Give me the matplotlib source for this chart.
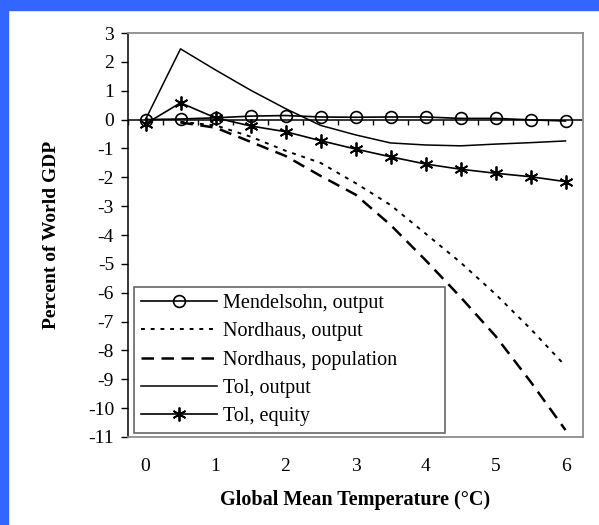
import numpy as np
import matplotlib
matplotlib.use("Agg")
import matplotlib.pyplot as plt
from matplotlib.patches import Rectangle

# values, percent of world GDP
temps = [0, 0.5, 1, 1.5, 2, 2.5, 3, 3.5, 4, 4.5, 5, 5.5, 6]
mendelsohn = [0.0, 0.02, 0.06, 0.12, 0.14, 0.09, 0.08, 0.09, 0.09, 0.04, 0.04, -0.01, -0.05]
nordhaus_out = [np.nan, -0.08, -0.2, -0.59, -1.08, -1.5, -2.2, -2.96, -3.95, -4.95, -6.05, -7.25, -8.54]
nordhaus_pop = [np.nan, -0.1, -0.28, -0.77, -1.26, -1.95, -2.6, -3.65, -4.87, -6.15, -7.5, -9.08, -10.76]
tol_output = [0.0, 2.45, 1.72, 1.02, 0.38, -0.2, -0.53, -0.81, -0.88, -0.91, -0.85, -0.8, -0.74]
tol_equity = [-0.15, 0.58, 0.06, -0.22, -0.42, -0.73, -1.02, -1.29, -1.54, -1.72, -1.86, -1.98, -2.15]

labels = ["Mendelsohn, output", "Nordhaus, output", "Nordhaus, population",
          "Tol, output", "Tol, equity"]
xticks = [0, 1, 2, 3, 4, 5, 6]
yticks = list(range(-11, 4))


def main():
    plt.rcParams['font.family'] = ['Liberation Serif', 'DejaVu Serif']
    plt.rcParams['axes.unicode_minus'] = False
    fig = plt.figure(figsize=(5.99, 5.25), dpi=100)
    fig.patch.set_facecolor('white')

    # blue slide edges
    blue = '#3366ff'
    fig.patches.append(Rectangle((0, 1 - 10 / 525), 1, 10 / 525, transform=fig.transFigure,
                                 color=blue, zorder=0))
    fig.patches.append(Rectangle((0, 0), 8 / 599, 1, transform=fig.transFigure,
                                 color=blue, zorder=0))

    ax = fig.add_axes([128 / 599, 1 - 437 / 525, 455 / 599, 404 / 525])

    ax.plot(temps, mendelsohn, color='black', lw=1.2, marker='o', ms=8.5,
            mfc='none', mec='black', mew=1.2, label=labels[0])
    ax.plot(temps, nordhaus_out, color='black', lw=1.4, ls=(0, (2, 3)), label=labels[1])
    ax.plot(temps, nordhaus_pop, color='black', lw=1.8, ls=(0, (5, 3)), label=labels[2])
    ax.plot(temps, tol_output, color='black', lw=1.1, label=labels[3])
    ax.plot(temps, tol_equity, color='black', lw=1.2, marker=(6, 2, 0), ms=10,
            mec='black', mew=1.3, label=labels[4])

    ax.set_xlim(-0.25, 6.25)
    ax.set_ylim(-11, 3)

    # zero line with category ticks
    ax.axhline(0, color='black', lw=1.1, zorder=1)
    bounds = np.arange(-0.25, 6.3, 0.5)
    ax.vlines(bounds, -0.18, 0, color='black', lw=1)

    ax.set_xticks(xticks)
    ax.set_yticks(yticks)
    ax.tick_params(axis='x', length=0, pad=15, labelsize=14)
    ax.tick_params(axis='y', length=5, width=1, pad=5, labelsize=14)

    for s in ['top', 'right', 'bottom']:
        ax.spines[s].set_color('#8c8c8c')
        ax.spines[s].set_linewidth(1.3)
    ax.spines['left'].set_color('black')
    ax.spines['left'].set_linewidth(1.1)

    ax.set_xlabel("Global Mean Temperature (\u00b0C)", fontsize=14.5, fontweight='bold')
    ax.xaxis.set_label_coords(0.5, -0.13)
    ax.set_ylabel("Percent of World GDP", fontsize=14, fontweight='bold')
    ax.yaxis.set_label_coords(-0.15, 0.5)

    leg = ax.legend(loc='lower left', bbox_to_anchor=(0.013, 0.01, 0.684, 0.35),
                    mode='expand', borderaxespad=0,
                    fontsize=14.5, handlelength=3.8, handletextpad=0.25, labelspacing=0.45,
                    fancybox=False, framealpha=1, borderpad=0.35)
    leg.get_frame().set_edgecolor('#666666')
    leg.get_frame().set_linewidth(1.2)

    fig.savefig('out.png', dpi=100)


if __name__ == '__main__':
    main()
